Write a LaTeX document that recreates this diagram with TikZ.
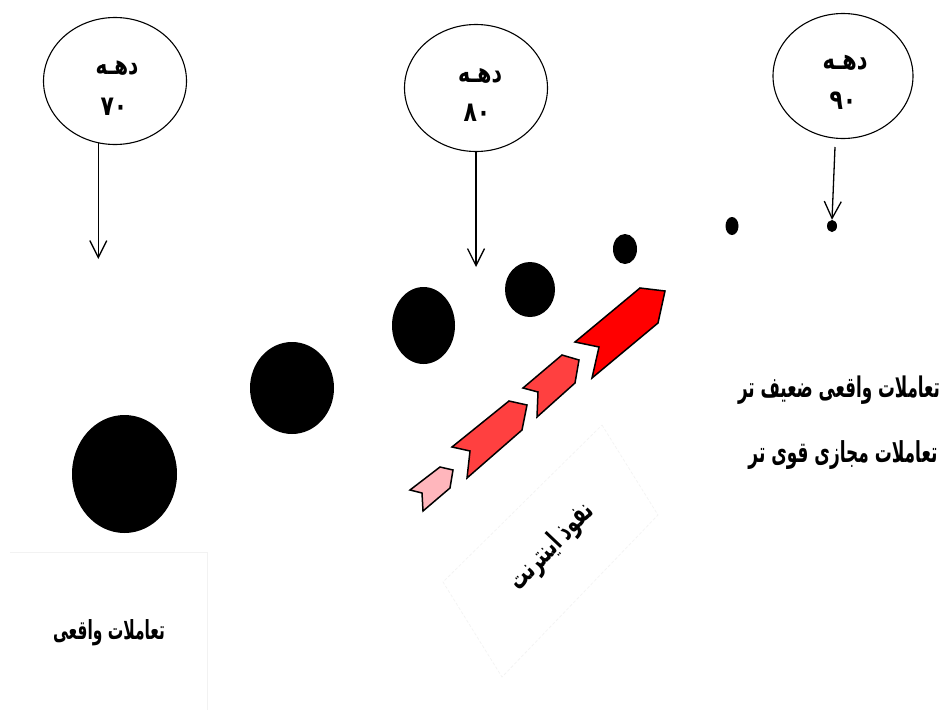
\documentclass[tikz,border=0pt]{standalone}
\usepackage{fontspec}
\usepackage{graphicx}
\usetikzlibrary{shapes.geometric,arrows.meta}
\newfontfamily\arabicfont[Script=Arabic]{DejaVu Sans}
\TeXXeTstate=1
\newcommand{\artxt}[3]{\resizebox{#1pt}{!}{\scalebox{1}[#2]{\arabicfont\bfseries #3}}}
\newcommand{\digtxt}[1]{\scalebox{1}[1.25]{\fontsize{22}{24}\selectfont\arabicfont\bfseries #1}}
\definecolor{chevmid}{RGB}{255,64,64}
\definecolor{chevpink}{RGB}{255,182,188}
\begin{document}
\begin{tikzpicture}[x=1pt,y=-1pt,
  ring/.style={ellipse, draw, line width=1.1pt, inner sep=0pt, minimum width=143pt, minimum height=127pt},
  blob/.style={ellipse, fill=black, inner sep=0pt},
  arr/.style={line width=1.3pt, -{Straight Barb[length=17pt,width=17pt]}},
  chev/.style={draw=black, line width=1.5pt, line join=miter},
  lbl/.style={inner sep=0pt},
  faint/.style={draw=black!5, line width=0.6pt}]
\useasboundingbox (0,0) rectangle (946,710);
\fill[white] (0,0) rectangle (946,710);

% faint text-box borders
\draw[faint] (10,552) -- (207,552) -- (207,710);
\draw[faint, dash pattern=on 3pt off 2pt] (602,425) -- (658,515) -- (502,677) -- (443,582) -- cycle;

% decade ellipses
\node[ring] (e1) at (115,81) {};
\node[ring] (e2) at (476,88) {};
\node[ring, minimum width=140pt, minimum height=125pt] (e3) at (843,76) {};

\node[lbl] (d1) at (117,68) {\artxt{43}{1.35}{\beginR دهـه\endR}};
\node[lbl] (n1) at (114,107) {\digtxt{۷۰}};
\node[lbl] (d2) at (480,76) {\artxt{44}{1.35}{\beginR دهـه\endR}};
\node[lbl] (n2) at (477,113) {\digtxt{۸۰}};
\node[lbl] (d3) at (845,63) {\artxt{45}{1.35}{\beginR دهـه\endR}};
\node[lbl] (n3) at (843,101) {\digtxt{۹۰}};

% black dots
\node[blob, minimum width=105pt, minimum height=118pt] (c1) at (124.5,474) {};
\node[blob, minimum width=84pt, minimum height=92pt] (c2) at (292,388) {};
\node[blob, minimum width=63pt, minimum height=77pt] (c3) at (423.5,325.5) {};
\node[blob, minimum width=50pt, minimum height=55pt] (c4) at (530,289.5) {};
\node[blob, minimum width=24pt, minimum height=30pt] (c5) at (625,249) {};
\node[blob, minimum width=13pt, minimum height=18pt] (c6) at (732,226) {};
\node[blob, minimum width=10pt, minimum height=12pt] (c7) at (832,226) {};

% arrows
\coordinate (t1) at (98,259);
\coordinate (t2) at (476,267);
\coordinate (s3) at (835,147);
\draw[arr] (e1.255) -- (e1.255 |- t1);
\draw[arr] (e2.south) -- (t2);
\draw[arr] (s3) -- (c7.north);

% chevrons
\filldraw[chev, fill=red] (575,342) -- (640,288) -- (665,291) -- (658,323) -- (592,378) -- (599,347) -- cycle;
\filldraw[chev, fill=chevmid] (523,388) -- (562,355) -- (579,360) -- (575,383) -- (537,417) -- (538,392) -- cycle;
\filldraw[chev, fill=chevmid] (452,447) -- (509,401) -- (527,405) -- (522,430) -- (467,478) -- (470,451) -- cycle;
\filldraw[chev, fill=chevpink] (410,490) -- (440,467) -- (453,470) -- (450,488) -- (423,511) -- (422,493) -- cycle;

% texts
\node[lbl] (treal) at (109,633) {\artxt{112}{1.7}{\beginR تعاملات واقعی\endR}};
\node[lbl] (tweak) at (839,390) {\artxt{202}{1.7}{\beginR تعاملات واقعی ضعیف تر\endR}};
\node[lbl] (tstrong) at (843,455) {\artxt{189}{1.7}{\beginR تعاملات مجازی قوی تر\endR}};
\node[lbl, rotate=46.5] (tnet) at (552,547) {\artxt{109}{1.6}{\beginR نفوذ اینترنت\endR}};
\end{tikzpicture}
\end{document}
